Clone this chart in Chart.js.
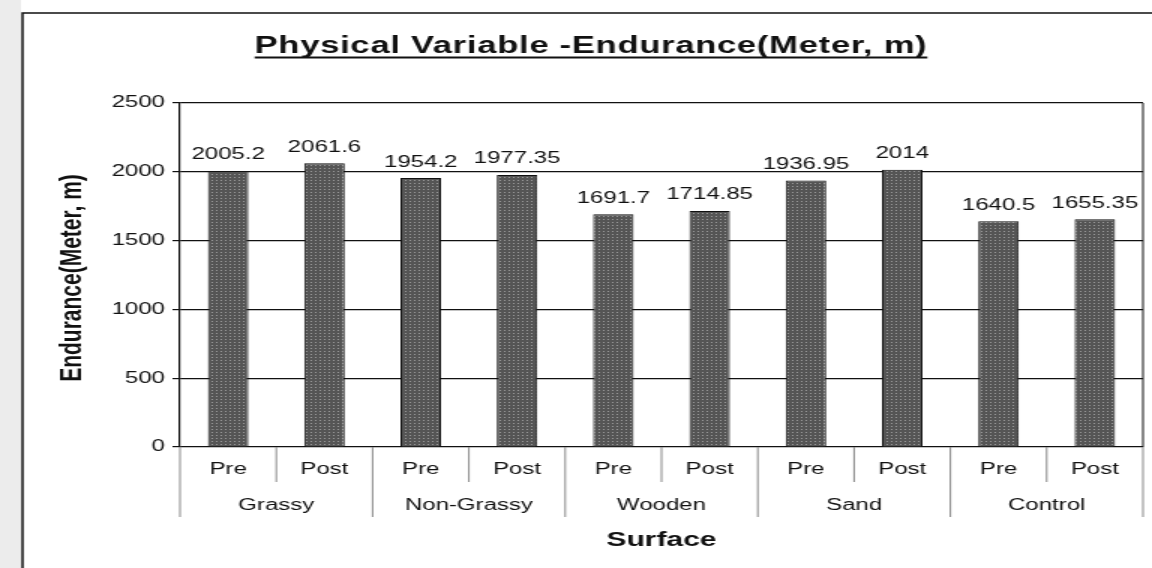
<!DOCTYPE html>
<html>
<head>
<meta charset="utf-8">
<title>Physical Variable -Endurance(Meter, m)</title>
<script src="https://cdn.jsdelivr.net/npm/chart.js"></script>
<style>
  html, body { margin: 0; padding: 0; background: #fff; }
</style>
</head>
<body>
<!-- the scanned chart is stretched sideways, so the canvas is drawn narrow and widened -->
<canvas id="chart" width="768" height="568" style="display:block;width:1152px;height:568px"></canvas>
<script>
const surfaces = ['Grassy', 'Non-Grassy', 'Wooden', 'Sand', 'Control'];
const tests = ['Pre', 'Post'];
const endurance = [2005.2, 2061.6, 1954.2, 1977.35, 1691.7, 1714.85, 1936.95, 2014, 1640.5, 1655.35];
const yTicks = [0, 500, 1000, 1500, 2000, 2500];

const labels = surfaces.flatMap(() => tests);
const FONT = '"Liberation Sans", Arial, sans-serif';

// dotted grey fill like the print
function makePattern() {
  const c = document.createElement('canvas');
  c.width = 3; c.height = 3;
  const g = c.getContext('2d');
  g.fillStyle = '#555';
  g.fillRect(0, 0, 3, 3);
  g.fillStyle = '#999';
  g.fillRect(0, 0, 1, 1);
  return g.createPattern(c, 'repeat');
}

const decor = {
  id: 'decor',
  beforeDraw(chart) {
    // greyish scan margin left of the frame
    const ctx = chart.ctx;
    ctx.save();
    ctx.fillStyle = '#ececec';
    ctx.fillRect(0, 0, 14, 568);
    ctx.restore();
  },
  afterDraw(chart) {
    const ctx = chart.ctx;
    const area = chart.chartArea;
    const x = chart.scales.x;
    ctx.save();

    // outer frame
    ctx.strokeStyle = '#111';
    ctx.lineWidth = 1.5;
    ctx.beginPath();
    ctx.moveTo(15, 568);
    ctx.lineTo(15, 13);
    ctx.lineTo(768, 13);
    ctx.stroke();

    // plot right border
    ctx.lineWidth = 1;
    ctx.beginPath();
    ctx.moveTo(area.right, area.top);
    ctx.lineTo(area.right, area.bottom);
    ctx.stroke();

    // category separators under the axis
    ctx.strokeStyle = '#888';
    for (let i = 0; i <= labels.length; i++) {
      let px;
      if (i == 0) px = area.left;
      else if (i == labels.length) px = area.right;
      else px = (x.getPixelForValue(i - 1) + x.getPixelForValue(i)) / 2;
      ctx.beginPath();
      ctx.moveTo(px, area.bottom);
      ctx.lineTo(px, i % 2 == 0 ? 517 : 482);
      ctx.stroke();
    }

    ctx.fillStyle = '#111';
    ctx.textAlign = 'center';
    ctx.textBaseline = 'middle';
    ctx.font = '16px ' + FONT;
    labels.forEach((l, i) => ctx.fillText(l, x.getPixelForValue(i), 470));
    surfaces.forEach((s, g) => {
      const cx = (x.getPixelForValue(2 * g) + x.getPixelForValue(2 * g + 1)) / 2;
      ctx.fillText(s, cx, 506);
    });

    // value labels
    ctx.textBaseline = 'bottom';
    chart.getDatasetMeta(0).data.forEach((bar, i) => {
      ctx.fillText(String(endurance[i]), bar.x, bar.y - 8);
    });

    // axis titles
    ctx.textBaseline = 'middle';
    ctx.font = 'bold 20px ' + FONT;
    ctx.fillText('Surface', (area.left + area.right) / 2, 540);

    ctx.save();
    ctx.translate(48, (area.top + area.bottom) / 2 + 3);
    ctx.rotate(-Math.PI / 2);
    ctx.font = 'bold 21px ' + FONT;
    ctx.fillText('Endurance(Meter, m)', 0, 0);
    ctx.restore();

    // underlined chart title
    const title = 'Physical Variable -Endurance(Meter, m)';
    ctx.font = 'bold 23px ' + FONT;
    ctx.letterSpacing = '0.5px';
    ctx.textBaseline = 'alphabetic';
    const tx = 394;
    ctx.fillText(title, tx, 53);
    const w = ctx.measureText(title).width;
    ctx.fillRect(tx - w / 2, 56.5, w, 2);
    ctx.restore();
  }
};

new Chart(document.getElementById('chart'), {
  type: 'bar',
  data: {
    labels: labels,
    datasets: [{
      data: endurance,
      backgroundColor: makePattern(),
      borderColor: '#111',
      borderWidth: 1,
      categoryPercentage: 1,
      barPercentage: 0.42
    }]
  },
  options: {
    responsive: false,
    animation: false,
    layout: { padding: { top: 103, right: 6, left: 0, bottom: 0 } },
    plugins: { legend: { display: false }, tooltip: { enabled: false } },
    scales: {
      x: {
        grid: { display: false },
        border: { display: false },
        ticks: { display: false },
        afterFit: (scale) => { scale.height = 121; }
      },
      y: {
        min: yTicks[0],
        max: yTicks[yTicks.length - 1],
        afterBuildTicks: (scale) => { scale.ticks = yTicks.map(v => ({ value: v })); },
        afterFit: (scale) => { scale.width = 120; },
        grid: { color: '#111', lineWidth: 1.2, tickLength: 5 },
        border: { color: '#111', width: 1.2 },
        ticks: {
          color: '#111',
          padding: 5,
          font: { size: 16, family: FONT },
          callback: (v) => String(v)
        }
      }
    }
  },
  plugins: [decor]
});
</script>
</body>
</html>
